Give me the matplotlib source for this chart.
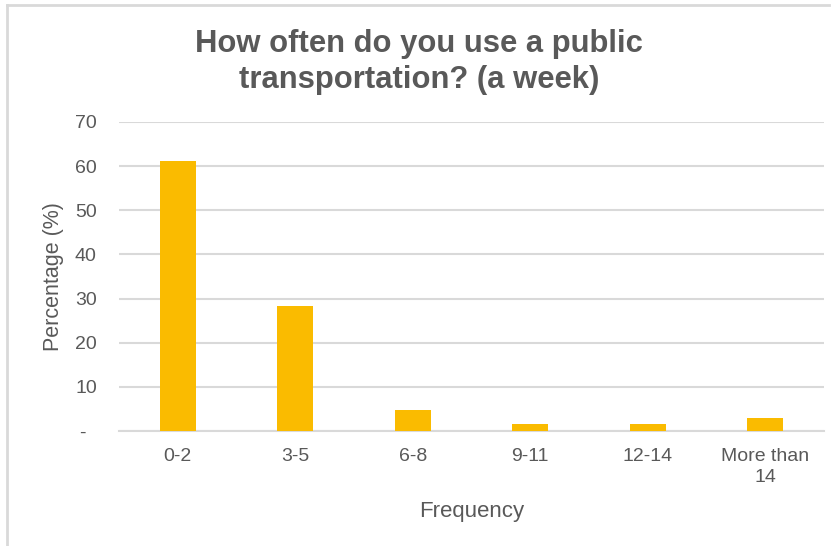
import matplotlib
matplotlib.use('Agg')
import matplotlib.pyplot as plt
from matplotlib.lines import Line2D

# Survey results
categories = ['0-2', '3-5', '6-8', '9-11', '12-14', 'More than\n14']
percentages = [61.2, 28.3, 4.7, 1.5, 1.5, 2.9]
yticks = [0, 10, 20, 30, 40, 50, 60, 70]
ytick_labels = ['-  ', '10', '20', '30', '40', '50', '60', '70']

plt.rcParams['font.family'] = ['Liberation Sans', 'DejaVu Sans']
text_color = '#595959'
grid_color = '#D9D9D9'

fig = plt.figure(figsize=(8.38, 5.46), dpi=100)
ax = fig.add_axes([119 / 838, 1 - 431 / 546, 705 / 838, 309 / 546])

x = range(len(categories))
ax.bar(x, percentages, width=0.31, color='#FABB00', zorder=3)

ax.set_xlim(-0.5, len(categories) - 0.5)
ax.set_ylim(0, 70)
ax.set_yticks(yticks)
ax.set_yticklabels(ytick_labels)
ax.set_xticks(list(x))
ax.set_xticklabels(categories, linespacing=1.3)

ax.grid(axis='y', color=grid_color, linewidth=1.5, zorder=0)
for side in ['top', 'right', 'left']:
    ax.spines[side].set_visible(False)
ax.spines['bottom'].set_color(grid_color)
ax.spines['bottom'].set_linewidth(1.5)
ax.tick_params(axis='both', length=0, labelsize=14, colors=text_color)
ax.tick_params(axis='y', pad=16)
ax.tick_params(axis='x', pad=12)

ax.set_xlabel('Frequency', fontsize=16, color=text_color, labelpad=11)
ax.set_ylabel('Percentage (%)', fontsize=15.5, color=text_color, labelpad=8)

fig.text(0.5, 1 - 62 / 546, 'How often do you use a public\ntransportation? (a week)',
         ha='center', va='center', fontsize=22.3, fontweight='bold',
         color=text_color, linespacing=1.3)

# chart area frame (only top and left edges are visible in the crop)
fig.add_artist(Line2D([7 / 838, 829 / 838], [1 - 5 / 546, 1 - 5 / 546],
                      transform=fig.transFigure, color=grid_color, linewidth=2))
fig.add_artist(Line2D([7 / 838, 7 / 838], [1 - 5 / 546, 0],
                      transform=fig.transFigure, color=grid_color, linewidth=2))

fig.savefig('out.png', dpi=100, facecolor='white')
